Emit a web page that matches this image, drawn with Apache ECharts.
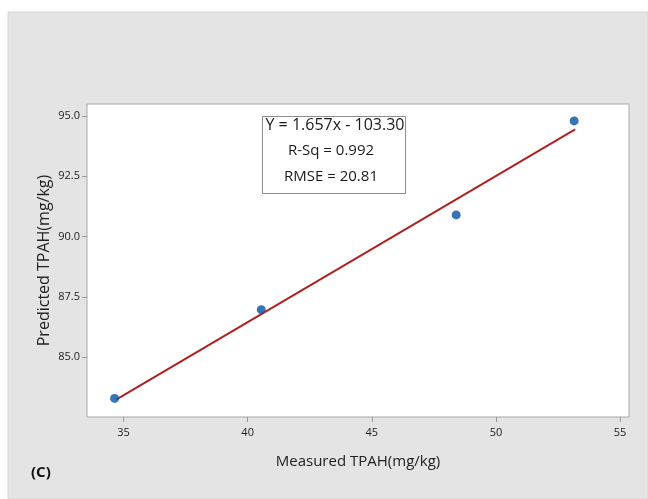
<!DOCTYPE html>
<html>
<head>
<meta charset="utf-8">
<script src="https://cdn.jsdelivr.net/npm/echarts@6/dist/echarts.min.js"></script>
<style>
  html, body { margin: 0; padding: 0; background: #fff; }
  #main { width: 648px; height: 499px; }
</style>
</head>
<body>
<div id="main"></div>
<script>
// 测量值 / 预测值
const measured = [34.64, 40.55, 48.4, 53.15];
const predicted = [83.29, 86.97, 90.9, 94.8];
// 拟合线两端
const fitX = [34.72, 53.19];
const fitY = [83.25, 94.45];
// 刻度
const xTicks = [35, 40, 45, 50, 55];
const yTicks = [85, 87.5, 90, 92.5, 95];
// 方程文本
const statLines = ['Y = 1.657x - 103.30', 'R-Sq = 0.992', 'RMSE = 20.81'];

const font = '"Open Sans", "Noto Sans", sans-serif';

function pairs(xs, ys) {
  return xs.map((x, i) => [x, ys[i]]);
}

const chart = echarts.init(document.getElementById('main'), null, { renderer: 'canvas' });

const option = {
  animation: false,
  backgroundColor: '#ffffff',
  graphic: [
    {
      type: 'rect',
      z: -10,
      shape: { x: 8, y: 12, width: 640, height: 487 },
      style: { fill: '#e4e4e4', stroke: '#d6d6d6', lineWidth: 1 }
    },
    {
      type: 'rect',
      z: 100,
      shape: { x: 262.5, y: 116.5, width: 143, height: 77 },
      style: { fill: '#ffffff', stroke: '#8c8c8c', lineWidth: 1 }
    },
    {
      type: 'text',
      z: 101,
      x: 335, y: 125,
      style: { text: statLines[0], fill: '#1a1a1a', font: '16px ' + font, align: 'center', verticalAlign: 'middle' }
    },
    {
      type: 'text',
      z: 101,
      x: 331, y: 151,
      style: { text: statLines[1], fill: '#1a1a1a', font: '15px ' + font, align: 'center', verticalAlign: 'middle' }
    },
    {
      type: 'text',
      z: 101,
      x: 331, y: 177,
      style: { text: statLines[2], fill: '#1a1a1a', font: '15px ' + font, align: 'center', verticalAlign: 'middle' }
    },
    {
      type: 'text',
      x: 31, y: 473,
      style: { text: '(C)', fill: '#111', font: 'bold 15px ' + font, align: 'left', verticalAlign: 'middle' }
    }
  ],
  grid: {
    left: 87,
    top: 104,
    right: 19,
    bottom: 82,
    show: true,
    backgroundColor: '#ffffff',
    borderColor: '#a8a8a8',
    borderWidth: 1
  },
  xAxis: {
    type: 'value',
    min: 33.53,
    max: 55.36,
    name: 'Measured TPAH(mg/kg)',
    nameLocation: 'middle',
    nameGap: 37,
    nameTextStyle: { fontFamily: font, fontSize: 15, color: '#222' },
    axisLine: { show: false },
    splitLine: { show: false },
    axisTick: {
      show: true, length: 5, inside: false,
      customValues: xTicks,
      lineStyle: { color: '#9a9a9a' }
    },
    axisLabel: {
      customValues: xTicks,
      margin: 10,
      fontFamily: font, fontSize: 11, color: '#222'
    }
  },
  yAxis: {
    type: 'value',
    min: 82.52,
    max: 95.5,
    name: 'Predicted TPAH(mg/kg)',
    nameLocation: 'middle',
    nameGap: 35,
    nameMoveOverlap: false,
    nameTextStyle: { fontFamily: font, fontSize: 16, color: '#222' },
    axisLine: { show: false },
    splitLine: { show: false },
    axisTick: {
      show: true, length: 5, inside: false,
      customValues: yTicks,
      lineStyle: { color: '#9a9a9a' }
    },
    axisLabel: {
      customValues: yTicks,
      margin: 7,
      fontFamily: font, fontSize: 11, color: '#222',
      formatter: v => v.toFixed(1)
    }
  },
  series: [
    {
      name: 'fit',
      type: 'line',
      data: pairs(fitX, fitY),
      symbol: 'none',
      z: 2,
      lineStyle: { color: '#ac2222', width: 2 }
    },
    {
      name: 'points',
      type: 'scatter',
      data: pairs(measured, predicted),
      symbol: 'circle',
      symbolSize: 9,
      z: 3,
      itemStyle: { color: '#0652a3' }
    }
  ]
};

chart.setOption(option);
</script>
</body>
</html>
